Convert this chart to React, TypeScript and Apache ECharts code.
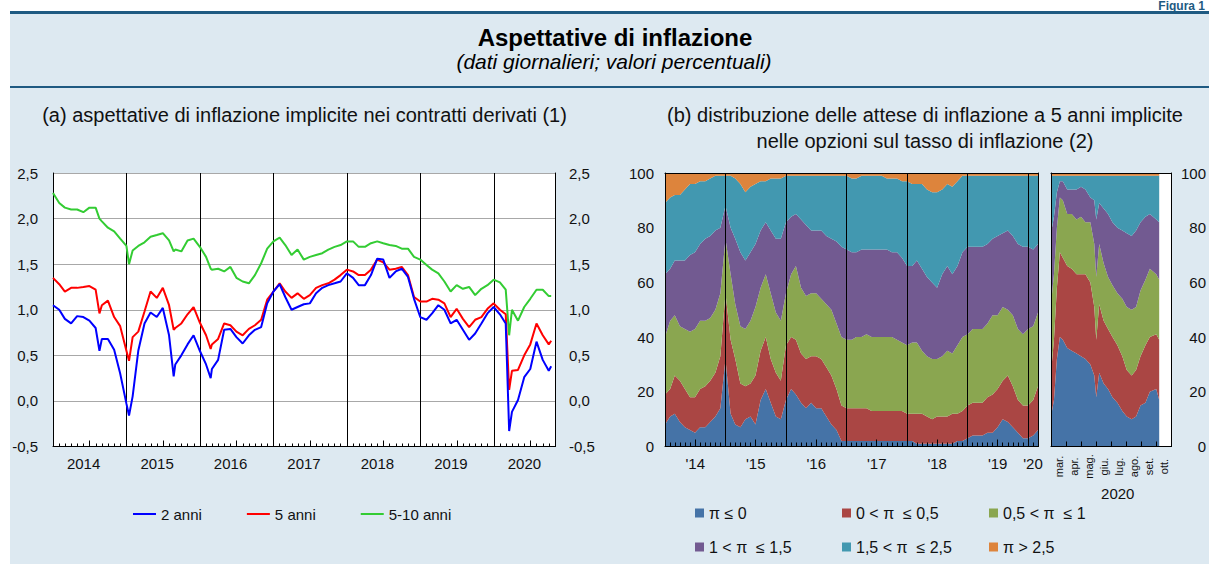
import React, { useEffect, useRef } from 'react';
import * as echarts from 'echarts';

const FONT = 'Liberation Sans, Arial, Helvetica, sans-serif';
const TXT = '#111111';

// ---------- Panel (a): implied inflation expectations ----------
const lineDates = [
  '2014-01-01', '2014-02-01', '2014-03-01', '2014-04-01', '2014-05-01', '2014-06-01', '2014-07-01', '2014-08-01', '2014-08-20', '2014-09-01', '2014-10-01', '2014-11-01', '2014-12-01',
  '2015-01-01', '2015-01-14', '2015-02-01', '2015-03-01', '2015-04-01', '2015-05-01', '2015-06-01', '2015-07-01', '2015-08-01', '2015-08-24', '2015-09-01', '2015-10-01', '2015-11-01', '2015-12-01',
  '2016-01-01', '2016-02-01', '2016-02-24', '2016-03-01', '2016-04-01', '2016-05-01', '2016-06-01', '2016-07-01', '2016-08-01', '2016-09-01', '2016-10-01', '2016-11-01', '2016-12-01',
  '2017-01-01', '2017-02-01', '2017-03-01', '2017-04-01', '2017-05-01', '2017-06-01', '2017-07-01', '2017-08-01', '2017-09-01', '2017-10-01', '2017-11-01', '2017-12-01',
  '2018-01-01', '2018-02-01', '2018-03-01', '2018-04-01', '2018-05-01', '2018-06-01', '2018-07-01', '2018-08-01', '2018-09-01', '2018-10-01', '2018-11-01', '2018-12-01',
  '2019-01-01', '2019-02-01', '2019-03-01', '2019-04-01', '2019-05-01', '2019-06-01', '2019-07-01', '2019-08-01', '2019-09-01', '2019-10-01', '2019-11-01', '2019-12-01',
  '2020-01-01', '2020-02-01', '2020-03-01', '2020-03-18', '2020-04-01', '2020-05-01', '2020-06-01', '2020-07-01', '2020-08-01', '2020-09-01', '2020-10-01', '2020-10-13',
];
const twoYear = [
  1.05, 1.0, 0.9, 0.85, 0.93, 0.92, 0.88, 0.8, 0.55, 0.68, 0.68, 0.56, 0.3,
  -0.03, -0.16, 0.05, 0.55, 0.85, 0.97, 0.92, 1.02, 0.72, 0.27, 0.4, 0.5, 0.62, 0.72,
  0.55, 0.4, 0.25, 0.35, 0.45, 0.78, 0.79, 0.7, 0.63, 0.72, 0.78, 0.81, 1.07,
  1.2, 1.28, 1.14, 1.0, 1.03, 1.06, 1.07, 1.18, 1.24, 1.27, 1.29, 1.31,
  1.4, 1.35, 1.27, 1.27, 1.38, 1.56, 1.55, 1.35, 1.42, 1.45, 1.36, 1.12,
  0.92, 0.89, 0.96, 1.05, 1.0, 0.85, 0.89, 0.78, 0.67, 0.74, 0.85, 0.96,
  1.03, 0.95, 0.85, -0.33, -0.12, 0.01, 0.26, 0.35, 0.65, 0.45, 0.33, 0.38,
];
const fiveYear = [
  1.35, 1.28, 1.2, 1.24, 1.24, 1.25, 1.26, 1.22, 0.96, 1.05, 1.1, 0.92, 0.82,
  0.55, 0.44, 0.7, 0.76, 0.98, 1.2, 1.13, 1.24, 1.05, 0.78, 0.8, 0.85, 0.95, 1.03,
  0.86, 0.72, 0.57, 0.62, 0.68, 0.85, 0.83, 0.76, 0.72, 0.79, 0.83, 0.89, 1.11,
  1.2, 1.29, 1.2, 1.13, 1.18, 1.12, 1.16, 1.24, 1.27, 1.29, 1.33, 1.38,
  1.44, 1.42, 1.38, 1.38, 1.44, 1.55, 1.52, 1.44, 1.45, 1.47, 1.38, 1.14,
  1.09, 1.09, 1.12, 1.11, 1.07, 0.92, 1.01, 0.9, 0.81, 0.89, 0.92, 1.01,
  1.07, 1.0, 0.95, 0.12, 0.33, 0.34, 0.5, 0.62, 0.85, 0.72, 0.62, 0.66,
];
const fiveTenYear = [
  2.28, 2.17, 2.12, 2.1, 2.1, 2.07, 2.12, 2.12, 2.0, 1.97, 1.9, 1.86, 1.78,
  1.7, 1.5, 1.65, 1.7, 1.74, 1.8, 1.82, 1.84, 1.76, 1.64, 1.66, 1.64, 1.76, 1.78,
  1.69, 1.58, 1.45, 1.44, 1.45, 1.42, 1.47, 1.35, 1.31, 1.29, 1.38, 1.51, 1.67,
  1.75, 1.79, 1.71, 1.6, 1.66, 1.55, 1.58, 1.6, 1.62, 1.66, 1.69, 1.71,
  1.75, 1.75, 1.69, 1.69, 1.73, 1.75, 1.73, 1.71, 1.7, 1.67, 1.67, 1.58,
  1.55, 1.49, 1.44, 1.4, 1.31, 1.2, 1.27, 1.23, 1.25, 1.16, 1.23, 1.27,
  1.33, 1.3, 1.22, 0.72, 1.0, 0.88, 1.03, 1.12, 1.22, 1.22, 1.15, 1.15,
];
const lineNames = ['2 anni', '5 anni', '5-10 anni'];
const lineColors = ['#0000ff', '#ff0000', '#33cc33'];

// ---------- Panel (b): distribution of 5-year expected inflation ----------
const distDates = [
  '2014-01-01', '2014-02-01', '2014-03-01', '2014-04-01', '2014-05-01', '2014-06-01', '2014-07-01', '2014-08-01', '2014-09-01', '2014-10-01', '2014-11-01', '2014-12-01',
  '2015-01-01', '2015-02-01', '2015-03-01', '2015-04-01', '2015-05-01', '2015-06-01', '2015-07-01', '2015-08-01', '2015-09-01', '2015-10-01', '2015-11-01', '2015-12-01',
  '2016-01-01', '2016-02-01', '2016-03-01', '2016-04-01', '2016-05-01', '2016-06-01', '2016-07-01', '2016-08-01', '2016-09-01', '2016-10-01', '2016-11-01', '2016-12-01',
  '2017-01-01', '2017-02-01', '2017-03-01', '2017-04-01', '2017-05-01', '2017-06-01', '2017-07-01', '2017-08-01', '2017-09-01', '2017-10-01', '2017-11-01', '2017-12-01',
  '2018-01-01', '2018-02-01', '2018-03-01', '2018-04-01', '2018-05-01', '2018-06-01', '2018-07-01', '2018-08-01', '2018-09-01', '2018-10-01', '2018-11-01', '2018-12-01',
  '2019-01-01', '2019-02-01', '2019-03-01', '2019-04-01', '2019-05-01', '2019-06-01', '2019-07-01', '2019-08-01', '2019-09-01', '2019-10-01', '2019-11-01', '2019-12-01',
  '2020-01-01', '2020-02-01', '2020-03-01',
];
const shareLe0 = [
  8, 11, 12, 9, 7, 6, 5, 7, 7, 9, 11, 14,
  32, 12, 8, 7, 10, 11, 8, 17, 21, 16, 11, 10,
  17, 21, 19, 16, 14, 16, 14, 14, 11, 8, 6, 2,
  2, 2, 2, 2, 2, 2, 2, 2, 2, 2, 2, 2,
  2, 2, 1, 1, 1, 1, 1, 1, 1, 1, 2, 2,
  3, 4, 4, 4, 5, 5, 7, 10, 9, 7, 5, 3,
  3, 4, 6,
];
const share0to05 = [
  11, 10, 14, 15, 14, 12, 13, 14, 15, 15, 16, 19,
  24, 27, 24, 16, 12, 12, 18, 18, 19, 16, 16, 14,
  20, 19, 20, 18, 18, 17, 19, 18, 18, 18, 15, 13,
  12, 12, 12, 12, 12, 11, 11, 11, 11, 11, 11, 11,
  10, 10, 11, 11, 10, 9, 10, 10, 10, 11, 10, 11,
  12, 12, 12, 12, 13, 14, 14, 14, 17, 15, 12, 12,
  12, 13, 16,
];
const share05to1 = [
  21, 25, 22, 20, 22, 24, 25, 25, 24, 23, 23, 23,
  20, 24, 20, 21, 21, 23, 25, 23, 23, 24, 22, 22,
  19, 23, 27, 24, 23, 23, 23, 22, 23, 24, 24, 25,
  25, 25, 26, 26, 27, 27, 27, 27, 27, 27, 26, 25,
  25, 26, 26, 23, 22, 22, 21, 22, 24, 22, 25, 27,
  26, 27, 27, 27, 27, 29, 27, 27, 24, 26, 26, 26,
  28, 27, 27,
];
const share1to15 = [
  23, 19, 20, 24, 25, 28, 28, 28, 30, 30, 29, 24,
  12, 17, 24, 27, 25, 25, 23, 21, 19, 23, 27, 30,
  26, 21, 19, 25, 26, 23, 23, 25, 25, 26, 30, 33,
  33, 32, 31, 32, 31, 32, 32, 32, 32, 31, 32, 31,
  29, 28, 30, 30, 29, 28, 26, 30, 31, 29, 29, 31,
  32, 30, 30, 30, 29, 28, 29, 27, 29, 29, 31, 32,
  30, 28, 25,
];
const share15to25 = [
  26, 26, 24, 24, 26, 26, 25, 23, 21, 21, 20, 19,
  11, 19, 22, 25, 25, 24, 22, 18, 15, 19, 22, 22,
  17, 15, 14, 16, 18, 20, 20, 20, 22, 23, 24, 26,
  27, 27, 27, 27, 27, 27, 27, 27, 26, 27, 27, 28,
  31, 30, 28, 31, 32, 33, 35, 31, 30, 32, 31, 28,
  26, 26, 26, 26, 25, 23, 22, 21, 20, 22, 25, 26,
  26, 27, 25,
];
const shareGt25 = [
  11, 9, 8, 8, 6, 4, 4, 3, 3, 2, 1, 1,
  1, 1, 2, 4, 7, 5, 4, 3, 3, 2, 2, 2,
  1, 1, 1, 1, 1, 1, 1, 1, 1, 1, 1, 1,
  1, 2, 2, 1, 1, 1, 1, 1, 2, 2, 2, 3,
  3, 4, 4, 4, 6, 7, 7, 6, 4, 5, 3, 1,
  1, 1, 1, 1, 1, 1, 1, 1, 1, 1, 1, 1,
  1, 1, 1,
];

// 2020 detail (March - October)
const dist2020Dates = [
  '2020-03-01', '2020-03-07', '2020-03-13', '2020-03-19', '2020-03-25', '2020-04-03', '2020-04-12', '2020-04-22',
  '2020-05-01', '2020-05-10', '2020-05-20', '2020-05-28', '2020-06-01', '2020-06-07', '2020-06-16', '2020-06-25',
  '2020-07-04', '2020-07-14', '2020-07-24', '2020-08-02', '2020-08-12', '2020-08-21', '2020-08-30', '2020-09-09',
  '2020-09-18', '2020-10-01', '2020-10-07',
];
const share2020Le0 = [11, 17, 32, 40, 39, 36, 35, 34, 33, 32, 30, 26, 18, 27, 23, 21, 18, 16, 13, 11, 10, 11, 15, 16, 20, 21, 17];
const share2020_0to05 = [16, 22, 26, 31, 30, 30, 30, 29, 30, 31, 30, 25, 21, 25, 23, 22, 22, 21, 20, 17, 16, 17, 18, 21, 20, 20, 22];
const share2020_05to1 = [25, 24, 22, 20, 21, 19, 20, 20, 21, 19, 22, 23, 23, 22, 21, 19, 19, 19, 21, 23, 24, 23, 24, 24, 25, 22, 22];
const share2020_1to15 = [26, 21, 13, 6, 7, 9, 9, 11, 11, 12, 9, 16, 21, 15, 20, 23, 23, 24, 25, 27, 27, 28, 25, 23, 20, 20, 21];
const share2020_15to25 = [21, 15, 6, 2, 2, 5, 5, 5, 4, 5, 8, 9, 16, 10, 12, 14, 17, 19, 20, 21, 22, 20, 17, 15, 14, 16, 17];
const share2020Gt25 = [1, 1, 1, 1, 1, 1, 1, 1, 1, 1, 1, 1, 1, 1, 1, 1, 1, 1, 1, 1, 1, 1, 1, 1, 1, 1, 1];

const months2020 = ['mar.', 'apr.', 'mag.', 'giu.', 'lug.', 'ago.', 'set.', 'ott.'];
const bucketNames = ['π ≤ 0', '0 < π  ≤ 0,5', '0,5 < π  ≤ 1', '1 < π  ≤ 1,5', '1,5 < π  ≤ 2,5', 'π > 2,5'];
const bucketColors = ['#4573a7', '#aa4644', '#8aa650', '#725a91', '#4298b0', '#dd843c'];
const mainShares = [shareLe0, share0to05, share05to1, share1to15, share15to25, shareGt25];
const detailShares = [share2020Le0, share2020_0to05, share2020_05to1, share2020_1to15, share2020_15to25, share2020Gt25];

const pairs = (dates: string[], vals: number[]) => dates.map((d, i) => [d, vals[i]]);

const noLine = { show: false, onZero: false };
const blackLine = { show: true, onZero: false, lineStyle: { color: '#000', width: 1 } };
const hidden = { show: false };

function buildOption() {
  const labelStyle = { fontSize: 15, color: TXT, fontFamily: FONT };

  const xAxis: any[] = [
    // grid 0 (panel a)
    { type: 'time', gridIndex: 0, position: 'bottom', min: '2014-01-01', max: '2020-11-01', axisLine: blackLine, axisTick: hidden, axisLabel: hidden, splitLine: hidden },
    {
      type: 'value', gridIndex: 0, position: 'bottom', min: 0, max: 82, interval: 1, z: 5, axisLine: noLine,
      axisTick: { show: true, inside: true, length: 3, lineStyle: { color: '#000' } },
      axisLabel: {
        ...labelStyle, margin: 9,
        formatter: (v: number) => { const r = Math.round(v); return r % 12 === 5 ? String(2014 + Math.floor(r / 12)) : ''; },
      },
      splitLine: hidden,
    },
    { type: 'value', gridIndex: 0, position: 'bottom', min: 0, max: 82, interval: 6, z: 5, axisLine: noLine, axisTick: { show: true, inside: true, length: 6, lineStyle: { color: '#000' } }, axisLabel: hidden, splitLine: hidden },
    { type: 'value', gridIndex: 0, position: 'bottom', min: 0, max: 82, interval: 12, axisLine: noLine, axisTick: hidden, axisLabel: hidden, splitLine: { show: true, lineStyle: { color: '#000', width: 1 } } },
    // grid 1 (panel b, 2014-2020)
    { type: 'time', gridIndex: 1, position: 'bottom', min: '2014-01-01', max: '2020-03-01', z: 6, axisLine: blackLine, axisTick: hidden, axisLabel: hidden, splitLine: hidden },
    {
      type: 'value', gridIndex: 1, position: 'bottom', min: 0, max: 74, interval: 1, z: 6, axisLine: noLine,
      axisTick: { show: true, inside: true, length: 4, lineStyle: { color: '#000' } },
      axisLabel: {
        ...labelStyle, margin: 9,
        formatter: (v: number) => {
          const r = Math.round(v);
          if (r === 73) return "'20";
          return r % 12 === 6 ? "'" + String(14 + Math.floor(r / 12)) : '';
        },
      },
      splitLine: hidden,
    },
    { type: 'value', gridIndex: 1, position: 'bottom', min: 0, max: 74, interval: 6, z: 6, axisLine: noLine, axisTick: { show: true, inside: true, length: 7, lineStyle: { color: '#000' } }, axisLabel: hidden, splitLine: hidden },
    { type: 'value', gridIndex: 1, position: 'bottom', min: 0, max: 74, interval: 12, z: 6, axisLine: noLine, axisTick: hidden, axisLabel: hidden, splitLine: { show: true, lineStyle: { color: '#000', width: 1 } } },
    { type: 'value', gridIndex: 1, position: 'top', min: 0, max: 1, z: 6, axisLine: blackLine, axisTick: hidden, axisLabel: hidden, splitLine: hidden },
    // grid 2 (panel b, 2020 detail)
    { type: 'time', gridIndex: 2, position: 'bottom', min: '2020-03-01', max: '2020-11-01', z: 6, axisLine: blackLine, axisTick: hidden, axisLabel: hidden, splitLine: hidden },
    {
      type: 'category', gridIndex: 2, position: 'bottom', data: months2020, boundaryGap: true, z: 6, axisLine: noLine,
      axisTick: { show: true, inside: true, length: 5, interval: 0, lineStyle: { color: '#000' } },
      axisLabel: { interval: 0, rotate: 90, align: 'center', verticalAlign: 'middle', margin: 20, fontSize: 11, color: TXT, fontFamily: FONT },
      name: '2020', nameLocation: 'middle', nameGap: 39.5,
      nameTextStyle: { fontSize: 15, color: TXT, fontFamily: FONT, padding: [0, 0, 0, 13] },
      splitLine: hidden,
    },
    { type: 'value', gridIndex: 2, position: 'top', min: 0, max: 1, z: 6, axisLine: blackLine, axisTick: hidden, axisLabel: hidden, splitLine: hidden },
  ];

  const fmtComma = (v: number) => v.toFixed(1).replace('.', ',');
  const yAxis: any[] = [
    { type: 'value', gridIndex: 0, position: 'left', min: -0.5, max: 2.5, interval: 0.5, axisLine: blackLine, axisTick: hidden, axisLabel: { ...labelStyle, margin: 15, formatter: fmtComma }, splitLine: { show: true, lineStyle: { color: '#a8a8a8', width: 1 } } },
    { type: 'value', gridIndex: 0, position: 'right', min: -0.5, max: 2.5, interval: 0.5, axisLine: blackLine, axisTick: hidden, axisLabel: { ...labelStyle, margin: 14, formatter: fmtComma }, splitLine: hidden },
    { type: 'value', gridIndex: 1, position: 'left', min: 0, max: 100, interval: 20, z: 6, axisLine: blackLine, axisTick: hidden, axisLabel: { ...labelStyle, margin: 11 }, splitLine: hidden },
    { type: 'value', gridIndex: 1, position: 'right', min: 0, max: 100, interval: 20, z: 6, axisLine: blackLine, axisTick: hidden, axisLabel: hidden, splitLine: hidden },
    { type: 'value', gridIndex: 2, position: 'left', min: 0, max: 100, interval: 20, z: 6, axisLine: blackLine, axisTick: hidden, axisLabel: hidden, splitLine: hidden },
    { type: 'value', gridIndex: 2, position: 'right', min: 0, max: 100, interval: 20, z: 6, axisLine: blackLine, axisTick: hidden, axisLabel: { ...labelStyle, margin: 34.5, align: 'right' }, splitLine: hidden },
  ];

  const lineValues = [twoYear, fiveYear, fiveTenYear];
  const series: any[] = [];
  [2, 1, 0].forEach((k) => {
    series.push({
      name: lineNames[k], type: 'line', xAxisIndex: 0, yAxisIndex: 0,
      data: pairs(lineDates, lineValues[k]), symbol: 'none', showSymbol: false,
      lineStyle: { width: 2, color: lineColors[k] }, itemStyle: { color: lineColors[k] }, z: 3,
    });
  });
  bucketNames.forEach((name, k) => {
    series.push({
      name, type: 'line', xAxisIndex: 4, yAxisIndex: 2, stack: 'main',
      data: pairs(distDates, mainShares[k]), symbol: 'none', showSymbol: false,
      lineStyle: { width: 0, opacity: 0 }, itemStyle: { color: bucketColors[k] },
      areaStyle: { color: bucketColors[k], opacity: 1 },
    });
  });
  bucketNames.forEach((name, k) => {
    series.push({
      name, type: 'line', xAxisIndex: 9, yAxisIndex: 4, stack: 'detail',
      data: pairs(dist2020Dates, detailShares[k]), symbol: 'none', showSymbol: false,
      lineStyle: { width: 0, opacity: 0 }, itemStyle: { color: bucketColors[k] },
      areaStyle: { color: bucketColors[k], opacity: 1 },
    });
  });

  const legendPos = [[695, 505], [842, 505], [989, 505], [695, 539], [842, 539], [989, 539]];
  const legend: any[] = [
    {
      left: 133, top: 506.5, padding: 0, itemGap: 45, itemWidth: 23, itemHeight: 2, icon: 'rect',
      data: lineNames, selectedMode: false, textStyle: { fontSize: 15, color: TXT, fontFamily: FONT },
    },
    ...bucketNames.map((name, k) => ({
      left: legendPos[k][0], top: legendPos[k][1], padding: 0, itemWidth: 9, itemHeight: 9, icon: 'rect',
      data: [name], selectedMode: false, textStyle: { fontSize: 16, color: TXT, fontFamily: FONT },
    })),
  ];

  const title: any[] = [
    { text: 'Aspettative di inflazione', left: 615, top: 25, padding: 0, textAlign: 'center', textVerticalAlign: 'top', textStyle: { fontSize: 24, fontWeight: 'bold', color: '#000', fontFamily: FONT } },
    { text: '(dati giornalieri; valori percentuali)', left: 614, top: 50.5, padding: 0, textAlign: 'center', textVerticalAlign: 'top', textStyle: { fontSize: 21, fontStyle: 'italic', fontWeight: 'normal', color: '#000', fontFamily: FONT } },
    { text: '(a) aspettative di inflazione implicite nei contratti derivati (1)', left: 304.5, top: 102, padding: 0, textAlign: 'center', textVerticalAlign: 'top', textStyle: { fontSize: 20, fontWeight: 'normal', color: TXT, lineHeight: 26, fontFamily: FONT } },
    { text: '(b) distribuzione delle attese di inflazione a 5 anni implicite\nnelle opzioni sul tasso di inflazione (2)', left: 925, top: 102, padding: 0, textAlign: 'center', textVerticalAlign: 'top', textStyle: { fontSize: 20, fontWeight: 'normal', color: TXT, lineHeight: 26, fontFamily: FONT } },
  ];

  return {
    animation: false,
    backgroundColor: '#ffffff',
    textStyle: { fontFamily: FONT },
    graphic: {
      elements: [
        { type: 'rect', z: -10, silent: true, shape: { x: 10, y: 11, width: 1199, height: 553 }, style: { fill: '#dde9f1' } },
        { type: 'rect', z: -9, silent: true, shape: { x: 10, y: 11, width: 1199, height: 3 }, style: { fill: '#1e5a82' } },
        { type: 'rect', z: -9, silent: true, shape: { x: 10, y: 86, width: 1199, height: 2 }, style: { fill: '#1e5a82' } },
        { type: 'text', z: -8, silent: true, x: 1205, y: 0, style: { text: 'Figura 1', fontSize: 12, fontWeight: 'bold', fontFamily: FONT, fill: '#1e5a82', align: 'right', verticalAlign: 'top' } },
      ],
    },
    title,
    legend,
    grid: [
      { left: 53, top: 173, width: 502, height: 273.5, show: true, backgroundColor: '#ffffff', borderWidth: 0 },
      { left: 665, top: 173, width: 373, height: 273.5, show: true, backgroundColor: '#ffffff', borderWidth: 0 },
      { left: 1051, top: 173, width: 129, height: 273.5, show: true, backgroundColor: '#ffffff', borderWidth: 0 },
    ],
    xAxis,
    yAxis,
    series,
  };
}

export default function App() {
  const ref = useRef<HTMLDivElement>(null);
  useEffect(() => {
    if (!ref.current) return;
    const chart = echarts.init(ref.current, undefined, { renderer: 'svg' });
    chart.setOption(buildOption() as any);
    return () => chart.dispose();
  }, []);
  return <div ref={ref} style={{ position: 'absolute', left: 0, top: 0, width: 1209, height: 564 }} />;
}
